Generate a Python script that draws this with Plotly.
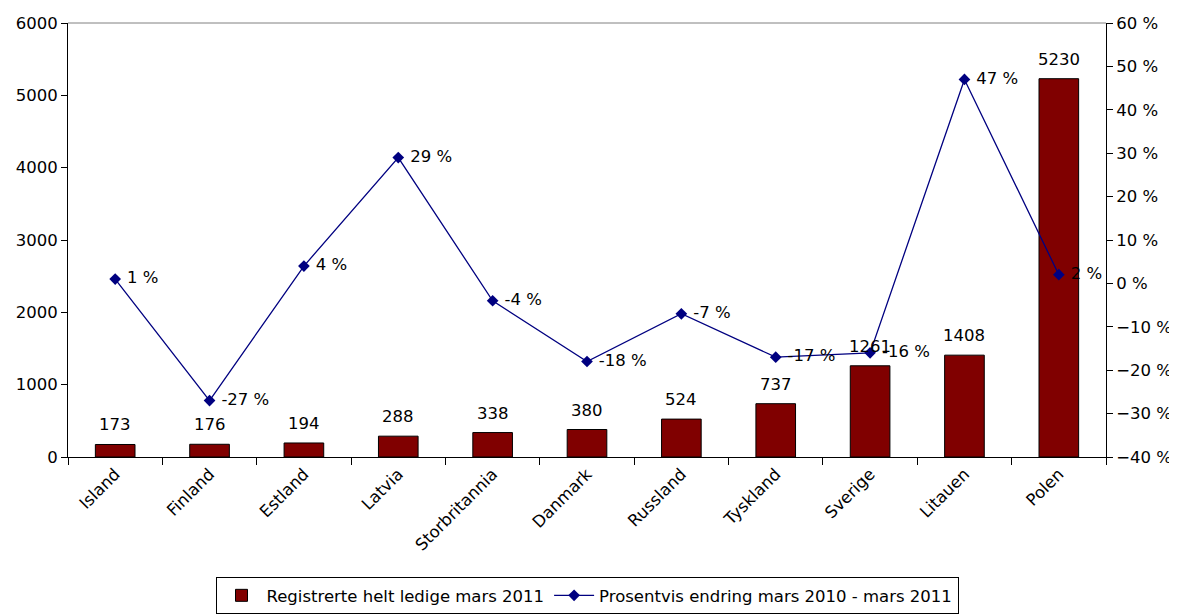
import plotly.graph_objects as go

countries = ["Island", "Finland", "Estland", "Latvia", "Storbritannia", "Danmark",
             "Russland", "Tyskland", "Sverige", "Litauen", "Polen"]
ledige = [173, 176, 194, 288, 338, 380, 524, 737, 1261, 1408, 5230]
endring = [1, -27, 4, 29, -4, -18, -7, -17, -16, 47, 2]

FONT = "DejaVu Sans, Liberation Sans, Arial, sans-serif"
FS = 16.5

fig = go.Figure()
fig.add_trace(go.Bar(
    x=countries, y=ledige, name="Registrerte helt ledige mars 2011",
    marker=dict(color="#800000", line=dict(color="#000000", width=1)),
    width=0.42,
))
fig.add_trace(go.Scatter(
    x=countries, y=endring, yaxis="y2", name="Prosentvis endring mars 2010 - mars 2011",
    mode="lines+markers+text",
    line=dict(color="#000080", width=1.3),
    marker=dict(symbol="diamond", size=9, color="#000080"),
    text=[f" {v} %" for v in endring], textposition="middle right",
    textfont=dict(color="black", size=FS, family=FONT),
    cliponaxis=False,
))

annotations = [
    dict(x=c, y=v, xref="x", yref="y", text=str(v), showarrow=False,
         yanchor="bottom", xanchor="center", yshift=8,
         font=dict(color="black", size=FS, family=FONT))
    for c, v in zip(countries, ledige)
]

fig.update_layout(
    width=1177, height=616,
    margin=dict(l=60, r=79, t=15, b=167, autoexpand=False),
    paper_bgcolor="white", plot_bgcolor="white",
    font=dict(family=FONT, size=FS, color="black"),
    showlegend=True,
    legend=dict(orientation="h", x=0.5, xanchor="center", y=-0.362, yanchor="bottom",
                bordercolor="black", borderwidth=1, font=dict(size=FS),
                itemwidth=40, tracegroupgap=0),
    xaxis=dict(range=[-0.5, 10.5], showline=True, linecolor="black", linewidth=1,
               ticks="outside", tickson="boundaries", ticklen=7, tickcolor="black",
               tickangle=-45, showgrid=False, tickfont=dict(size=FS), automargin=False),
    yaxis=dict(range=[0, 6000], dtick=1000, showline=True, linecolor="black",
               linewidth=1, ticks="outside", ticklen=6, tickcolor="black",
               showgrid=False, zeroline=False, tickfont=dict(size=FS), automargin=False),
    yaxis2=dict(range=[-40, 60], dtick=10, overlaying="y", side="right",
                showline=True, linecolor="black", linewidth=1, ticks="outside",
                ticklen=6, tickcolor="black", ticksuffix=" %", showgrid=False,
                zeroline=False, tickfont=dict(size=FS), automargin=False),
    annotations=annotations,
    shapes=[dict(type="line", xref="paper", yref="paper", x0=0, x1=1, y0=1, y1=1,
                 line=dict(color="#808080", width=1))],
)

fig.write_html("out.html")
